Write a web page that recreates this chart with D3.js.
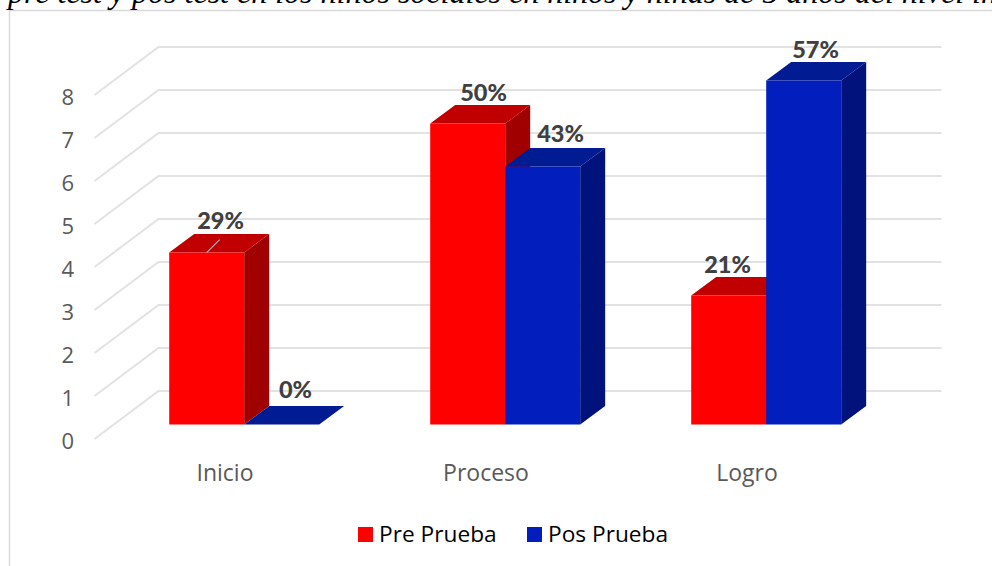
<!DOCTYPE html>
<html>
<head>
<meta charset="utf-8">
<script src="https://cdn.jsdelivr.net/npm/d3@7"></script>
<style>
  html, body { margin: 0; padding: 0; background: #fff; overflow: hidden; }
  svg { display: block; }
</style>
</head>
<body>
<svg id="chart" width="992" height="566"></svg>
<script>
const categories = ["Inicio", "Proceso", "Logro"];
const seriesNames = ["Pre Prueba", "Pos Prueba"];
const prePrueba = [4, 7, 3];
const posPrueba = [0, 6, 8];
const preLabels = ["29%", "50%", "21%"];
const posLabels = ["0%", "43%", "57%"];
const yTicks = [0, 1, 2, 3, 4, 5, 6, 7, 8];
const titleText = "pre test y pos test en los niños sociales en niños y niñas de 5 años del nivel inicial";

const width = 992, height = 566;
const sans = "'Open Sans', 'Noto Sans', sans-serif";
const svg = d3.select("#chart");

// the 3d box: depth 0 is the front of the floor, depth 1 the back wall
const depthX = 64, depthY = 48;
const barFront = 0.3, barBack = 0.69;

const x0 = d3.scaleBand().domain(categories).range([94.5, 877.5]);
const x1 = d3.scaleBand().domain(seriesNames).range([0, 150]);
const barLeft = (x0.bandwidth() - 150) / 2;
const y = d3.scaleLinear().domain([0, 8]).range([439, 95]);

const project = (px, v, d) => [px + depthX * d, y(v) - depthY * d];
const poly = (pts) => pts.map((p) => p.join(",")).join(" ");

// frame of the pasted picture and the cut off caption above it
svg.append("path")
  .attr("d", `M9.5,${height}V10.5H${width}`)
  .attr("fill", "none")
  .attr("stroke", "#d9d9d9")
  .attr("stroke-width", 1.5);

svg.append("text")
  .attr("x", 8)
  .attr("y", 3)
  .attr("font-family", "'Liberation Serif', serif")
  .attr("font-style", "italic")
  .attr("font-size", 32)
  .attr("fill", "#000")
  .text(titleText);

// gridlines: floor edge then along the back wall
const [gridLeft, gridRight] = x0.range();
svg.append("g")
  .selectAll("polyline")
  .data(yTicks)
  .join("polyline")
  .attr("points", (t) => poly([project(gridLeft, t, 0), project(gridLeft, t, 1), project(gridRight, t, 1)]))
  .attr("fill", "none")
  .attr("stroke", "#e2e2e2")
  .attr("stroke-width", 2);

// y axis, labels only
const yAxis = svg.append("g")
  .attr("transform", "translate(74,2)")
  .call(d3.axisLeft(y).tickValues(yTicks).tickSize(0).tickPadding(0));
yAxis.select(".domain").remove();
yAxis.selectAll("text")
  .attr("font-family", sans)
  .attr("font-size", 22)
  .attr("fill", "#595959");

// x axis, labels only
const xAxis = svg.append("g")
  .attr("transform", "translate(0,465)")
  .call(d3.axisBottom(x0).tickSize(0).tickPadding(0));
xAxis.select(".domain").remove();
xAxis.selectAll("text")
  .attr("font-family", sans)
  .attr("font-size", 23)
  .attr("fill", "#595959");

const bars = [];
categories.forEach((c, i) => {
  bars.push({ cat: c, name: seriesNames[0], value: prePrueba[i], label: preLabels[i], front: "#ff0000", top: "#c00000", side: "#a00000" });
  bars.push({ cat: c, name: seriesNames[1], value: posPrueba[i], label: posLabels[i], front: "#021fbe", top: "#011b92", side: "#01127c" });
});

const bar = svg.append("g")
  .selectAll("g")
  .data(bars)
  .join("g")
  .attr("shape-rendering", "geometricPrecision");

const left = (d) => x0(d.cat) + barLeft + x1(d.name);
const right = (d) => left(d) + x1.bandwidth();

bar.append("polygon") // side
  .attr("fill", (d) => d.side)
  .attr("points", (d) => poly([
    project(right(d), 0, barFront), project(right(d), d.value, barFront),
    project(right(d), d.value, barBack), project(right(d), 0, barBack)
  ]));
bar.append("polygon") // top
  .attr("fill", (d) => d.top)
  .attr("points", (d) => poly([
    project(left(d), d.value, barFront), project(right(d), d.value, barFront),
    project(right(d), d.value, barBack), project(left(d), d.value, barBack)
  ]));
bar.append("polygon") // front
  .attr("fill", (d) => d.front)
  .attr("points", (d) => poly([
    project(left(d), 0, barFront), project(right(d), 0, barFront),
    project(right(d), d.value, barFront), project(left(d), d.value, barFront)
  ]));

// a few labels were moved by hand in the original
const labelShiftX = { "21%": -16, "57%": -3, "43%": 3, "50%": 1, "29%": -1, "0%": -1 };
const labelShiftY = { "0%": -3, "57%": 1, "50%": 1, "43%": -1, "21%": 1 };
svg.append("g")
  .selectAll("text")
  .data(bars)
  .join("text")
  .attr("x", (d) => (left(d) + right(d)) / 2 + 34 + labelShiftX[d.label])
  .attr("y", (d) => y(d.value) - depthY * barBack - 5 + (labelShiftY[d.label] || 0))
  .attr("text-anchor", "middle")
  .attr("font-family", "Lato, 'Open Sans', sans-serif")
  .attr("font-weight", 900)
  .attr("font-size", 23.5)
  .attr("fill", "#404040")
  .text((d) => d.label);

// leader line of the 29% label
const first = bars[0];
const [leadX, leadY] = project((left(first) + right(first)) / 2, first.value, barFront);
svg.append("line")
  .attr("x1", leadX)
  .attr("y1", leadY)
  .attr("x2", leadX + 13)
  .attr("y2", leadY - 13)
  .attr("stroke", "#b0b0b0")
  .attr("stroke-width", 1.2);

// legend
const legendColor = d3.scaleOrdinal(seriesNames, ["#ff0000", "#021fbe"]);
const legendX = d3.scaleOrdinal(seriesNames, [358, 527]);
const legend = svg.append("g")
  .selectAll("g")
  .data(seriesNames)
  .join("g")
  .attr("transform", (d) => `translate(${legendX(d)},527)`);
legend.append("rect")
  .attr("width", 15)
  .attr("height", 15)
  .attr("fill", legendColor);
legend.append("text")
  .attr("x", 21)
  .attr("y", 15)
  .attr("font-family", sans)
  .attr("font-size", 22.7)
  .attr("fill", "#000")
  .text((d) => d);
</script>
</body>
</html>
